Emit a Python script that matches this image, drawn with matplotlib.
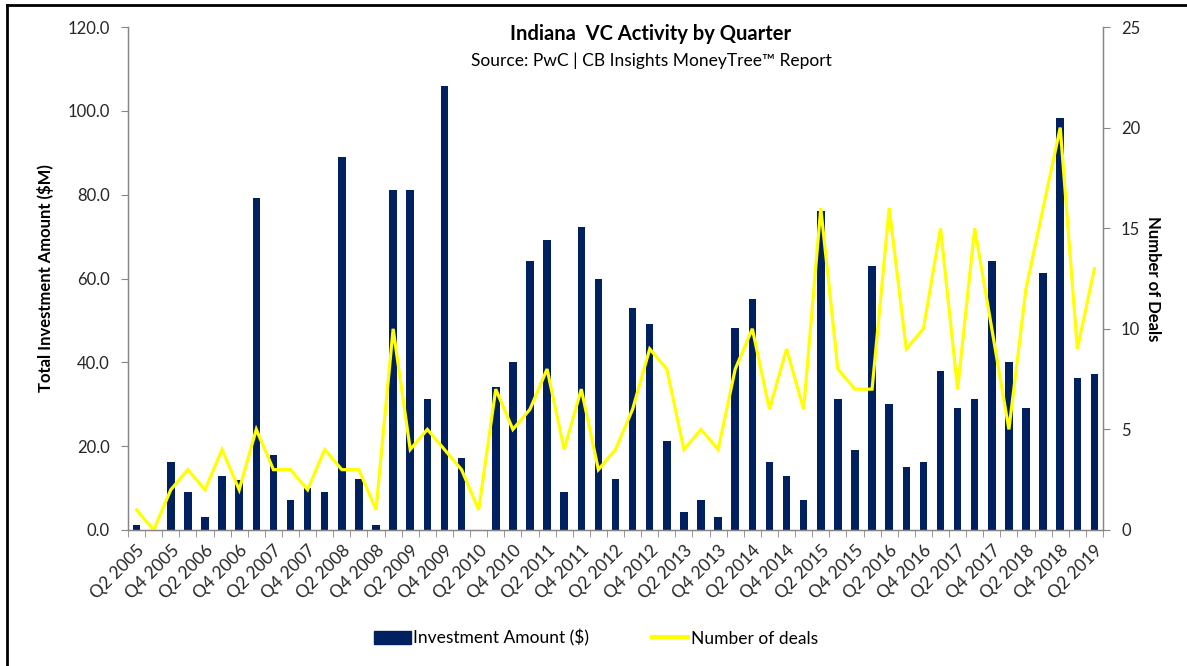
import matplotlib
matplotlib.use('Agg')
from matplotlib import pyplot as plt
from matplotlib.patches import Patch
from matplotlib.lines import Line2D

plt.rcParams['font.family'] = ['Lato', 'DejaVu Sans']

quarters = [f'Q{q} {y}' for y in range(2005, 2020) for q in (1, 2, 3, 4)]
quarters = quarters[1:quarters.index('Q2 2019') + 1]

investment = [1.2, 0, 16.2, 9.1, 3.1, 13.0, 12.0, 79.1, 18.0, 7.1,
              10.0, 9.1, 89.1, 12.1, 1.2, 81.1, 81.1, 31.2, 105.9, 17.1,
              0, 34.1, 40.1, 64.1, 69.1, 9.1, 72.2, 60.0, 12.1, 53.0,
              49.2, 21.2, 4.2, 7.1, 3.1, 48.1, 55.0, 16.2, 13.0, 7.1,
              76.2, 31.2, 19.1, 63.0, 30.1, 15.1, 16.2, 38.0, 29.2, 31.2,
              64.1, 40.1, 29.2, 61.2, 98.3, 36.2, 37.1]

deals = [1, 0, 2, 3, 2, 4, 2, 5, 3, 3,
         2, 4, 3, 3, 1, 10, 4, 5, 4, 3,
         1, 7, 5, 6, 8, 4, 7, 3, 4, 6,
         9, 8, 4, 5, 4, 8, 10, 6, 9, 6,
         16, 8, 7, 7, 16, 9, 10, 15, 7, 15,
         10, 5, 12, 16, 20, 9, 13]

navy = '#002060'
yellow = '#FFFF00'
grey = '#868686'

fig = plt.figure(figsize=(11.87, 6.66), dpi=100)
ax = fig.add_axes([128 / 1187, 1 - 530 / 666, 975 / 1187, 503 / 666])
ax2 = ax.twinx()

x = range(len(quarters))
ax.bar(x, investment, width=0.44, color=navy, zorder=2)
ax2.plot(x, deals, color=yellow, linewidth=2.3, solid_joinstyle='miter')

ax.set_xlim(-0.5, len(quarters) - 0.5)
ax.set_ylim(0, 120)
ax2.set_ylim(0, 25)
ax.set_yticks(range(0, 121, 20))
ax.set_yticklabels([f'{v:.1f}' for v in range(0, 121, 20)])
ax2.set_yticks(range(0, 26, 5))

ax.set_xticks(list(x)[::2])
ax.set_xticklabels(quarters[::2], rotation=45, ha='right',
                   rotation_mode='anchor', fontsize=12.5, color='#262626')
ax.set_xticks([i - 0.5 for i in range(len(quarters) + 1)], minor=True)
ax.tick_params(axis='x', which='major', length=0, pad=9)
ax.tick_params(axis='x', which='minor', length=5, color=grey, direction='out')
ax.tick_params(axis='y', length=5, color=grey, labelsize=12, labelcolor='#262626', pad=8)
ax2.tick_params(axis='y', length=5, color=grey, labelsize=12, labelcolor='#262626', pad=8)

for a in (ax, ax2):
    a.spines['top'].set_visible(False)
    for s in ('left', 'right', 'bottom'):
        a.spines[s].set_color(grey)
        a.spines[s].set_linewidth(0.9)

ax.set_ylabel('Total Investment Amount ($M)', fontsize=12, fontweight='bold', labelpad=10)
ax2.set_ylabel('Number of Deals', fontsize=12, fontweight='bold', rotation=270, labelpad=15)

fig.text(651 / 1187, 1 - 34 / 666, 'Indiana  VC Activity by Quarter',
         ha='center', va='center', fontsize=14.5, fontweight='bold')
fig.text(651 / 1187, 1 - 61 / 666, 'Source: PwC | CB Insights MoneyTree\u2122 Report',
         ha='center', va='center', fontsize=12.5)

handles = [Patch(facecolor=navy, edgecolor=navy),
           Line2D([0], [0], color=yellow, linewidth=3)]
fig.legend(handles, ['Investment Amount ($)', 'Number of deals'],
           loc='center', bbox_to_anchor=(596 / 1187, 1 - 638 / 666), ncol=2,
           frameon=False, fontsize=12.5, handlelength=2.1, handleheight=0.8,
           handletextpad=0.15, columnspacing=3.6)

# frame lines at top and left, as cropped in the source
fig.add_artist(Line2D([7 / 1187, 7 / 1187], [0, 1 - 5 / 666], color='black',
                      linewidth=2, transform=fig.transFigure))
fig.add_artist(Line2D([7 / 1187, 1], [1 - 5 / 666, 1 - 5 / 666], color='black',
                      linewidth=2, transform=fig.transFigure))

plt.savefig('out.png', dpi=100)
